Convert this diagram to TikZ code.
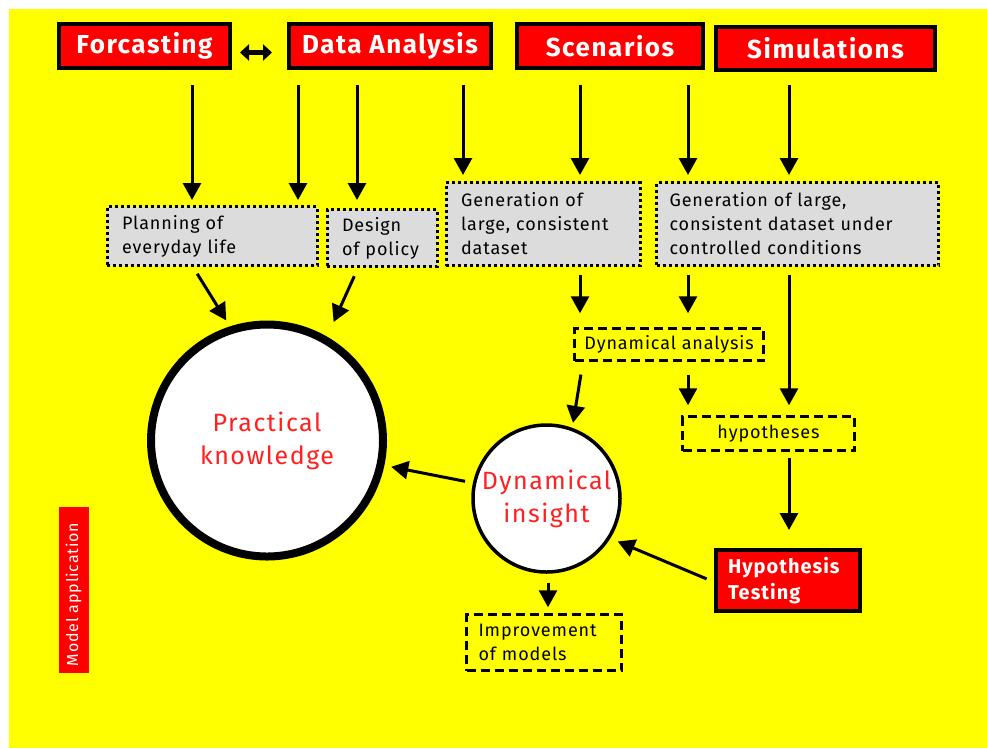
\documentclass[tikz,border=0pt]{standalone}
\usepackage{fontspec}
\setmainfont{Fira Sans}
\newfontfamily\hdfont[LetterSpace=6]{Fira Sans}
\newfontfamily\bxfont[LetterSpace=5]{Fira Sans}
\newfontfamily\cfont[LetterSpace=6]{Fira Sans}
\usetikzlibrary{arrows.meta}
\definecolor{bgyellow}{HTML}{FFFF00}
\definecolor{boxred}{HTML}{FF0000}
\definecolor{boxgray}{HTML}{DCDCDC}
\definecolor{txtred}{HTML}{FF2020}
\tikzset{
  headbox/.style={draw=black, line width=4pt, fill=boxred, text=white, inner sep=0pt,
    font=\hdfont\fontsize{26}{30}\selectfont\bfseries},
  graybox/.style={draw=black, line width=3pt, dash pattern=on 3pt off 3pt, fill=boxgray,
    inner xsep=15pt, inner ysep=0pt, align=left, font=\bxfont\fontsize{18}{24}\selectfont},
  dashbox/.style={draw=black, line width=2.5pt, dash pattern=on 9pt off 5pt,
    inner sep=0pt, font=\bxfont\fontsize{18}{24}\selectfont},
  bigcircle/.style={circle, draw=black, fill=white, inner sep=0pt, text=txtred,
    align=center, font=\cfont\fontsize{25}{33}\selectfont},
  arr/.style={line width=3pt, -{Triangle[length=17pt,width=18pt]}},
}
\begin{document}
\begin{tikzpicture}[x=1pt,y=-1pt]
\useasboundingbox (0,0) rectangle (987,748);
\fill[white] (0,0) rectangle (987,748);
\fill[bgyellow] (9,9) rectangle (987,748);

% header boxes
\node[headbox, minimum width=171pt, minimum height=44pt] (fc) at (144.5,46) {Forcasting};
\node[headbox, minimum width=202pt, minimum height=44pt] (da) at (390,46) {Data Analysis};
\node[headbox, minimum width=186pt, minimum height=44pt] (sc) at (610,46) {Scenarios};
\node[headbox, minimum width=219pt, minimum height=43pt] (sim) at (825.5,48.5) {Simulations};

% gray dotted boxes
\node[graybox, text width=180pt, minimum height=59pt] (plan) at (212,236) {Planning of\\everyday life};
\node[graybox, text width=80pt, minimum height=57pt] (des) at (382,238) {Design\\of policy};
\node[graybox, text width=164pt, minimum height=83pt] (g1) at (543,224) {Generation of\\large, consistent\\dataset};
\node[graybox, inner xsep=13pt, text width=256pt, minimum height=83pt] (g2) at (797.5,224) {Generation of large,\\consistent dataset under\\controlled conditions};

% dashed boxes
\node[dashbox, minimum width=189pt, minimum height=32pt] (dan) at (669,344.5) {Dynamical analysis};
\node[dashbox, minimum width=172pt, minimum height=34pt] (hyp) at (768.5,433.5) {hypotheses};
\node[dashbox, inner xsep=12pt, text width=131pt, align=left, minimum height=56pt] (imp) at (544,642.5) {Improvement\\of models};

% hypothesis testing
\node[draw=black, line width=4pt, fill=boxred, text=white, inner xsep=12pt, inner ysep=0pt,
  text width=120pt, align=left, minimum height=61pt,
  font=\bxfont\fontsize{20}{26}\selectfont\bfseries] (ht) at (788,580.5) {Hypothesis\\Testing};

% circles
\node[bigcircle, line width=8pt, minimum size=232pt] (pk) at (267,440.5) {Practical\\knowledge};
\node[bigcircle, line width=3.5pt, minimum size=147pt] (di) at (546.5,498.5) {Dynamical\\insight};

% model application
\node[fill=boxred, draw=none, minimum width=30pt, minimum height=166pt, inner sep=0pt] (ma) at (73.5,589.5) {};
\node[text=white, rotate=90, font=\bxfont\fontsize{16}{18}\selectfont] (matxt) at ([yshift=-5pt]ma.center) {Model application};

% double arrow
\draw[line width=5pt, {Triangle[length=9pt,width=16pt]}-{Triangle[length=9pt,width=16pt]},
  shorten <=8pt, shorten >=15pt] ([yshift=-6.5pt]fc.east) -- ([yshift=-6.5pt]da.west);

% arrows from headers
\draw[arr, shorten <=15pt, shorten >=5pt] ([xshift=47.5pt]fc.south) -- ([xshift=-20pt]plan.north);
\draw[arr, shorten <=15pt, shorten >=5pt] ([xshift=-92pt]da.south) -- ([xshift=86pt]plan.north);
\draw[arr, shorten <=15pt, shorten >=8pt] ([xshift=-33pt]da.south) -- ([xshift=-25pt]des.north);
\draw[arr, shorten <=15pt, shorten >=6pt] ([xshift=73pt]da.south) -- ([xshift=-80pt]g1.north);
\draw[arr, shorten <=15pt, shorten >=6pt] ([xshift=-30pt]sc.south) -- ([xshift=37pt]g1.north);
\draw[arr, shorten <=15pt, shorten >=6pt] ([xshift=78pt]sc.south) -- ([xshift=-109.5pt]g2.north);
\draw[arr, shorten <=13pt, shorten >=6pt] ([xshift=-36.5pt]sim.south) -- ([xshift=-8.5pt]g2.north);

% to practical knowledge
\draw[arr, shorten <=8pt, shorten >=7pt] ([xshift=-19pt]plan.south) -- (pk.108);
\draw[arr, shorten <=9pt, shorten >=16pt] ([xshift=-24pt]des.south) -- (pk.60);

% middle arrows
\draw[arr, shorten <=8pt, shorten >=14pt] ([xshift=37pt]g1.south) -- ([xshift=-89pt]dan.north);
\draw[arr, shorten <=8pt, shorten >=14pt] ([xshift=-109.5pt]g2.south) -- ([xshift=19pt]dan.north);
\draw[arr, shorten <=8pt, shorten >=10pt] ([xshift=-8.5pt]g2.south) -- ([xshift=20.5pt]hyp.north);
\draw[arr, shorten <=13pt, shorten >=5pt] ([xshift=-86pt]dan.south) -- (di.70);
\draw[arr, shorten <=13pt, shorten >=10pt] ([xshift=19pt]dan.south) -- ([xshift=-80.5pt]hyp.north);
\draw[arr, shorten <=6pt, shorten >=18pt] ([xshift=20.5pt]hyp.south) -- ([xshift=1pt]ht.north);
\draw[arr, shorten <=8pt, shorten >=8pt] ([yshift=-1.5pt]ht.west) -- (di.-32);
\draw[arr, shorten <=8pt, shorten >=7pt] (di.168) -- (pk.-12);
\draw[arr, shorten <=9pt, shorten >=6pt] ([xshift=1.5pt]di.south) -- ([xshift=4pt]imp.north);
\end{tikzpicture}
\end{document}
